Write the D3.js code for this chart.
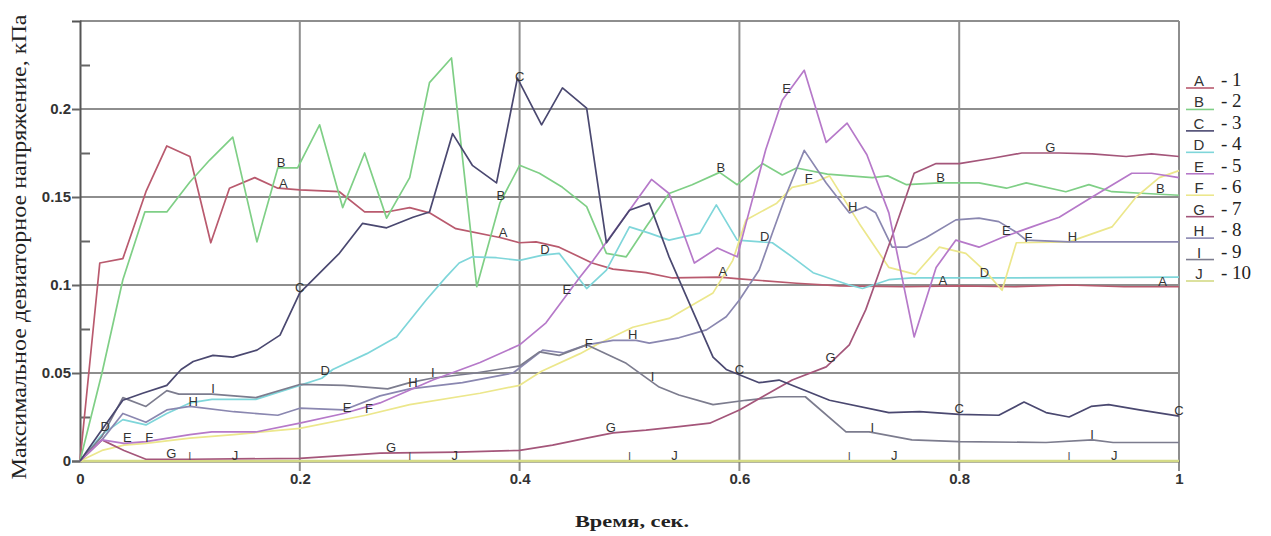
<!DOCTYPE html>
<html><head><meta charset="utf-8">
<script src="https://cdn.jsdelivr.net/npm/d3@7"></script>
<style>html,body{margin:0;padding:0;background:#fff;}svg{display:block;}</style>
</head><body>
<svg id="chart" width="1271" height="536"></svg>
<script>
// ---- data ----
const xTicks = [0, 0.2, 0.4, 0.6, 0.8, 1];
const yTicks = [0, 0.05, 0.1, 0.15, 0.2];
const yMinorTicks = [0.025, 0.075, 0.125, 0.175, 0.225];
const seriesNames = ["A","B","C","D","E","F","G","H","I","J"];
const legendNumbers = ["1","2","3","4","5","6","7","8","9","10"];
const seriesColors = ["#b95a6e","#7fcf86","#4a4870","#7fd6da","#b679c9","#ece78c","#a4567a","#8a87b0","#7c7c8e","#d4da86"];
const labelStart = [0.185,0.183,0.2,0.023,0.043,0.063,0.083,0.103,0.121,0.141];
const zeroMarks = [0.1,0.3,0.5,0.7,0.9];

const seriesA = [[0,0],[0.018,0.1125],[0.039,0.115],[0.06,0.153],[0.079,0.179],[0.1,0.173],[0.119,0.124],[0.136,0.155],[0.159,0.161],[0.18,0.155],[0.2,0.154],[0.236,0.153],[0.259,0.1415],[0.279,0.1415],[0.3,0.144],[0.318,0.141],[0.342,0.132],[0.382,0.127],[0.4,0.124],[0.415,0.1245],[0.436,0.1215],[0.466,0.1125],[0.485,0.109],[0.515,0.107],[0.539,0.104],[0.582,0.1045],[0.6,0.1035],[0.652,0.101],[0.691,0.0995],[0.75,0.099],[0.8,0.0995],[0.85,0.099],[0.9,0.1],[0.95,0.099],[1,0.099]];
const seriesB = [[0,0],[0.02,0.05],[0.039,0.103],[0.059,0.1415],[0.079,0.1415],[0.1,0.1585],[0.118,0.171],[0.139,0.184],[0.161,0.1245],[0.18,0.1665],[0.198,0.1665],[0.218,0.191],[0.239,0.144],[0.259,0.175],[0.279,0.138],[0.3,0.161],[0.318,0.215],[0.338,0.229],[0.361,0.099],[0.382,0.1465],[0.4,0.168],[0.418,0.1635],[0.439,0.1555],[0.461,0.1445],[0.479,0.118],[0.497,0.116],[0.515,0.133],[0.536,0.152],[0.557,0.157],[0.582,0.164],[0.598,0.157],[0.621,0.169],[0.639,0.1625],[0.652,0.1665],[0.68,0.163],[0.721,0.161],[0.735,0.162],[0.752,0.157],[0.782,0.158],[0.818,0.158],[0.843,0.155],[0.861,0.158],[0.897,0.153],[0.918,0.157],[0.939,0.153],[0.97,0.152],[1,0.151]];
const seriesC = [[0,0],[0.018,0.016],[0.039,0.0345],[0.057,0.0385],[0.079,0.043],[0.092,0.052],[0.103,0.0565],[0.121,0.06],[0.139,0.059],[0.161,0.063],[0.182,0.0715],[0.2,0.0955],[0.236,0.118],[0.257,0.135],[0.279,0.1325],[0.303,0.1385],[0.318,0.1415],[0.339,0.186],[0.357,0.168],[0.379,0.158],[0.398,0.2175],[0.42,0.191],[0.439,0.212],[0.461,0.2005],[0.479,0.124],[0.5,0.1425],[0.518,0.1465],[0.536,0.116],[0.557,0.086],[0.576,0.059],[0.588,0.052],[0.618,0.0445],[0.636,0.046],[0.682,0.0345],[0.736,0.0275],[0.764,0.028],[0.8,0.0265],[0.836,0.026],[0.859,0.0335],[0.879,0.0275],[0.9,0.025],[0.92,0.031],[0.936,0.032],[0.964,0.029],[1,0.0255]];
const seriesD = [[0,0],[0.02,0.015],[0.039,0.0235],[0.06,0.0205],[0.079,0.027],[0.1,0.033],[0.12,0.035],[0.16,0.035],[0.2,0.043],[0.22,0.047],[0.23,0.052],[0.261,0.061],[0.288,0.0705],[0.315,0.0915],[0.333,0.1045],[0.345,0.1125],[0.357,0.116],[0.379,0.1155],[0.4,0.114],[0.421,0.117],[0.436,0.118],[0.461,0.098],[0.479,0.1085],[0.5,0.133],[0.518,0.1295],[0.536,0.1255],[0.564,0.1295],[0.579,0.1455],[0.598,0.1255],[0.63,0.124],[0.648,0.116],[0.667,0.107],[0.7,0.1],[0.712,0.098],[0.736,0.103],[0.757,0.104],[0.85,0.104],[1,0.1045]];
const seriesE = [[0,0],[0.02,0.012],[0.04,0.01],[0.06,0.011],[0.1,0.015],[0.12,0.0165],[0.16,0.0165],[0.2,0.0215],[0.24,0.027],[0.273,0.033],[0.321,0.046],[0.364,0.056],[0.4,0.066],[0.424,0.0785],[0.455,0.1045],[0.467,0.114],[0.482,0.127],[0.5,0.1425],[0.52,0.16],[0.536,0.152],[0.559,0.1125],[0.58,0.121],[0.598,0.116],[0.606,0.135],[0.624,0.177],[0.639,0.205],[0.659,0.222],[0.679,0.181],[0.698,0.192],[0.716,0.174],[0.736,0.141],[0.759,0.0705],[0.779,0.11],[0.797,0.1255],[0.818,0.1215],[0.839,0.127],[0.866,0.133],[0.891,0.1385],[0.921,0.15],[0.957,0.1635],[0.975,0.1635],[1,0.161]];
const seriesF = [[0,0],[0.02,0.006],[0.04,0.009],[0.06,0.01],[0.1,0.013],[0.14,0.015],[0.2,0.0185],[0.26,0.026],[0.3,0.032],[0.364,0.0385],[0.4,0.043],[0.42,0.051],[0.455,0.061],[0.47,0.066],[0.503,0.076],[0.536,0.081],[0.576,0.0955],[0.594,0.114],[0.606,0.137],[0.634,0.1465],[0.648,0.1555],[0.667,0.158],[0.682,0.162],[0.709,0.135],[0.736,0.11],[0.76,0.106],[0.782,0.1215],[0.806,0.118],[0.825,0.107],[0.839,0.097],[0.852,0.124],[0.9,0.1245],[0.939,0.133],[0.961,0.15],[0.982,0.161],[1,0.165]];
const seriesG = [[0,0],[0.02,0.012],[0.04,0.006],[0.06,0.001],[0.1,0.001],[0.2,0.0015],[0.273,0.0045],[0.343,0.005],[0.4,0.006],[0.43,0.009],[0.461,0.013],[0.485,0.016],[0.515,0.0175],[0.545,0.0195],[0.573,0.0215],[0.6,0.029],[0.621,0.0365],[0.648,0.046],[0.679,0.0535],[0.7,0.066],[0.715,0.086],[0.727,0.107],[0.742,0.133],[0.759,0.1635],[0.779,0.169],[0.8,0.169],[0.83,0.172],[0.857,0.175],[0.891,0.175],[0.921,0.1745],[0.952,0.173],[0.975,0.1745],[1,0.173]];
const seriesH = [[0,0],[0.02,0.012],[0.039,0.027],[0.06,0.022],[0.079,0.029],[0.1,0.031],[0.14,0.028],[0.18,0.026],[0.2,0.03],[0.24,0.029],[0.273,0.037],[0.3,0.041],[0.348,0.0445],[0.394,0.05],[0.421,0.063],[0.44,0.0615],[0.461,0.066],[0.485,0.0685],[0.506,0.0685],[0.518,0.067],[0.545,0.07],[0.57,0.0745],[0.588,0.082],[0.6,0.0915],[0.618,0.1085],[0.63,0.1295],[0.643,0.152],[0.659,0.1765],[0.679,0.158],[0.7,0.141],[0.715,0.1445],[0.724,0.141],[0.739,0.1215],[0.752,0.1215],[0.77,0.127],[0.797,0.137],[0.818,0.138],[0.836,0.136],[0.852,0.13],[0.861,0.1255],[0.9,0.1245],[1,0.1245]];
const seriesI = [[0,0],[0.02,0.014],[0.039,0.036],[0.06,0.031],[0.079,0.04],[0.09,0.038],[0.12,0.038],[0.16,0.036],[0.2,0.0435],[0.24,0.043],[0.28,0.041],[0.3,0.0445],[0.32,0.047],[0.36,0.05],[0.4,0.054],[0.418,0.062],[0.436,0.06],[0.461,0.066],[0.497,0.0555],[0.527,0.042],[0.545,0.0375],[0.576,0.032],[0.606,0.0345],[0.636,0.0365],[0.66,0.0365],[0.697,0.0165],[0.718,0.0165],[0.757,0.012],[0.8,0.011],[0.879,0.0105],[0.921,0.012],[0.94,0.0105],[1,0.0105]];
const seriesJ = [[0,0],[0.2,0],[0.4,0],[0.6,0],[0.8,0],[1,0]];
const allSeries = [seriesA,seriesB,seriesC,seriesD,seriesE,seriesF,seriesG,seriesH,seriesI,seriesJ];

// ---- drawing ----
const svg = d3.select("#chart");
const x = d3.scaleLinear().domain([0,1]).range([80,1179]);
const y = d3.scaleLinear().domain([0,0.25]).range([461,21]);
const gridColor = "#8e8e8e";

// grid
svg.append("g").selectAll("line").data(yTicks.slice(1).concat([0.25])).join("line")
  .attr("x1", x(0)).attr("x2", x(1)).attr("y1", d=>y(d)).attr("y2", d=>y(d))
  .attr("stroke", gridColor).attr("stroke-width", 2);
svg.append("g").selectAll("line").data(xTicks.slice(1)).join("line")
  .attr("x1", d=>x(d)).attr("x2", d=>x(d)).attr("y1", y(0.25)).attr("y2", y(0)+10)
  .attr("stroke", gridColor).attr("stroke-width", 2);

// y axis
const yAxis = svg.append("g").attr("transform", `translate(${x(0)},0)`)
  .call(d3.axisLeft(y).tickValues(yTicks).tickSize(8).tickPadding(1)
    .tickFormat(d => String(+d.toFixed(2))));
yAxis.select(".domain").attr("stroke","#555").attr("stroke-width",2);
yAxis.selectAll(".tick line").attr("stroke","#666").attr("stroke-width",2);
yAxis.selectAll("text").attr("font-family","Liberation Sans, Arial, sans-serif")
  .attr("font-size",15).attr("font-weight","bold").attr("fill","#333");
const yMinor = svg.append("g").attr("transform", `translate(${x(0)},0)`)
  .call(d3.axisRight(y).tickValues(yMinorTicks).tickSize(10).tickFormat(""));
yMinor.select(".domain").remove();
yMinor.selectAll(".tick line").attr("stroke","#666").attr("stroke-width",2);

// x axis
const xAxis = svg.append("g").attr("transform", `translate(0,${y(0)})`)
  .call(d3.axisBottom(x).tickValues(xTicks).tickSize(0).tickPadding(12)
    .tickFormat(d => String(d)));
xAxis.select(".domain").attr("stroke","#555").attr("stroke-width",2);
xAxis.selectAll("text").attr("font-family","Liberation Sans, Arial, sans-serif")
  .attr("font-size",15).attr("font-weight","bold").attr("fill","#333");

// series lines
const line = d3.line().x(d=>x(d[0])).y(d=>y(d[1]));
const order = [9,0,1,3,5,7,8,6,4,2];
svg.append("g").selectAll("path").data(order).join("path")
  .attr("d", i => line(allSeries[i]))
  .attr("fill","none").attr("stroke", i => seriesColors[i])
  .attr("stroke-width", i => i===9 ? 2.5 : 1.7).attr("stroke-linejoin","round");

// series letter labels along lines
function valueAt(s, t){
  const i = d3.bisector(d=>d[0]).left(s, t);
  if (i<=0) return s[0][1];
  if (i>=s.length) return s[s.length-1][1];
  const a=s[i-1], b=s[i];
  return a[1] + (b[1]-a[1])*(t-a[0])/(b[0]-a[0]);
}
const labelData = [];
seriesNames.forEach((n,i)=>{
  for (let k=0;k<5;k++){
    const t = labelStart[i] + 0.2*k;
    if (t<=1.0001) labelData.push({n, t:Math.min(t,1), v:valueAt(allSeries[i], Math.min(t,1))});
  }
});
svg.append("g").selectAll("text").data(labelData).join("text")
  .attr("x", d=>x(d.t)).attr("y", d=>y(d.v)-1)
  .attr("text-anchor","middle").attr("font-family","Liberation Sans, Arial, sans-serif")
  .attr("font-size",13).attr("fill","#333").text(d=>d.n);
svg.append("g").selectAll("text").data(zeroMarks).join("text")
  .attr("x", d=>x(d)).attr("y", y(0)-1)
  .attr("text-anchor","middle").attr("font-family","Liberation Sans, Arial, sans-serif")
  .attr("font-size",11).attr("fill","#555").text("I");

// legend
const lg = svg.append("g");
const legendY = d3.scaleLinear().domain([0,9]).range([86,279]);
seriesNames.forEach((n,i)=>{
  const yy = legendY(i);
  lg.append("text").attr("x",1199).attr("y",yy).attr("text-anchor","middle")
    .attr("font-family","Liberation Sans, Arial, sans-serif").attr("font-size",15)
    .attr("fill","#333").text(n);
  lg.append("line").attr("x1",1186).attr("x2",1214).attr("y1",yy+2).attr("y2",yy+2)
    .attr("stroke",seriesColors[i]).attr("stroke-width",1.6);
  lg.append("text").attr("x",1221).attr("y",yy)
    .attr("font-family","Liberation Serif, Times New Roman, serif").attr("font-size",19)
    .attr("fill","#222").text("- " + legendNumbers[i]);
});

// axis titles
svg.append("text").attr("transform","translate(26,247) rotate(-90)")
  .attr("text-anchor","middle").attr("font-family","Liberation Serif, Times New Roman, serif")
  .attr("font-size",21).attr("fill","#222")
  .attr("textLength",465).attr("lengthAdjust","spacingAndGlyphs")
  .text("Максимальное девиаторное напряжение, кПа");
svg.append("text").attr("x",632).attr("y",527)
  .attr("text-anchor","middle").attr("font-family","Liberation Serif, Times New Roman, serif")
  .attr("font-size",16).attr("font-weight","bold").attr("fill","#222")
  .attr("textLength",114).attr("lengthAdjust","spacingAndGlyphs")
  .text("Время, сек.");
</script>
</body></html>
